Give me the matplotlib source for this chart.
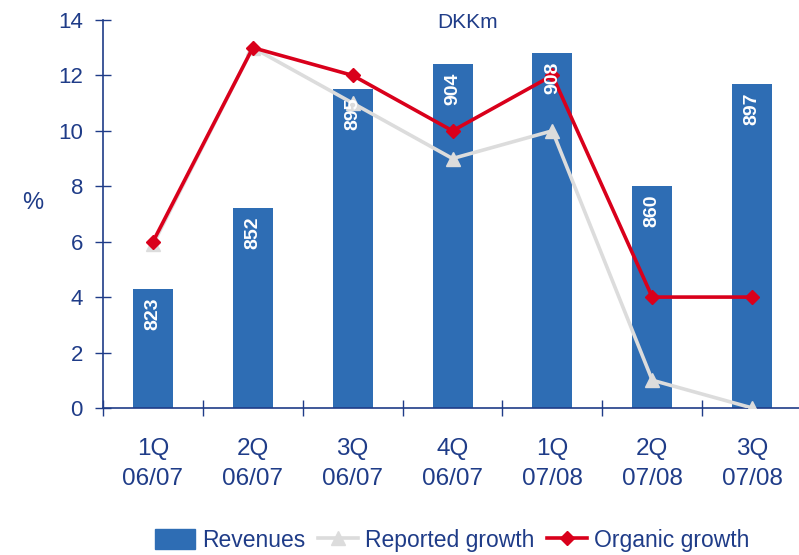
import matplotlib
matplotlib.use("Agg")
import matplotlib.pyplot as plt
from matplotlib.lines import Line2D
from matplotlib.patches import Patch

plt.rcParams['font.family'] = ['Liberation Sans', 'DejaVu Sans']

categories = ["1Q\n06/07", "2Q\n06/07", "3Q\n06/07", "4Q\n06/07", "1Q\n07/08", "2Q\n07/08", "3Q\n07/08"]
revenues = [823, 852, 895, 904, 908, 860, 897]
reported_growth = [5.9, 13, 11, 9, 10, 1, 0]
organic_growth = [6, 13, 12, 10, 12, 4, 4]

NAVY = "#1F3C88"
BLUE = "#2E6DB4"
RED = "#D9001B"
GRAY = "#DCDCDC"

fig = plt.figure(figsize=(7.99, 5.55), dpi=100)
ax = fig.add_axes([0.129, 0.265, 0.871, 0.699])
ax2 = ax.twinx()
ax.set_zorder(2)
ax.patch.set_visible(False)

x = list(range(len(categories)))
ax2.bar(x, [r - 780 for r in revenues], bottom=780, width=0.4, color=BLUE, zorder=1)
ax2.set_ylim(780, 920)
ax2.axis('off')

ax.plot(x, reported_growth, color=GRAY, lw=2.6, marker='^', ms=10, zorder=3)
ax.plot(x, organic_growth, color=RED, lw=2.6, marker='D', ms=7.5, zorder=4)

for xi, r in zip(x, revenues):
    ax.annotate(str(r), (xi, r), xycoords=ax2.transData, xytext=(0, -6),
                textcoords='offset points', rotation=90, ha='center', va='top',
                color='white', fontsize=14, fontweight='bold', zorder=5)

ax.set_xlim(-0.5, 6.47)
ax.set_ylim(0, 14)
ax.set_yticks(range(0, 15, 2))
ax.set_xticks([i + 0.5 for i in range(-1, 6)], minor=False)
ax.set_xticklabels([])
ax.set_xticks(x, minor=True)
ax.set_xticklabels(categories, minor=True, fontsize=17.5, color=NAVY, linespacing=1.45)
ax.tick_params(axis='x', which='minor', length=0, pad=22)
ax.tick_params(axis='x', which='major', direction='inout', length=12, color=NAVY, width=1)
ax.tick_params(axis='y', direction='inout', length=11, color=NAVY, width=1,
               labelsize=16, labelcolor=NAVY, pad=9)
for s in ['top', 'right']:
    ax.spines[s].set_visible(False)
for s in ['left', 'bottom']:
    ax.spines[s].set_color(NAVY)
    ax.spines[s].set_linewidth(1.2)

fig.text(0.041, 0.634, "%", fontsize=17, color=NAVY, ha='center', va='center')
fig.text(0.585, 0.96, "DKKm", fontsize=15, color=NAVY, ha='center', va='center')

handles = [Patch(color=BLUE),
           Line2D([], [], color=GRAY, lw=2.6, marker='^', ms=10),
           Line2D([], [], color=RED, lw=2.6, marker='D', ms=7.5)]
fig.legend(handles, ["Revenues", "Reported growth", "Organic growth"], ncol=3,
           loc='center', bbox_to_anchor=(0.566, 0.027), frameon=False,
           fontsize=16.5, labelcolor=NAVY, handlelength=1.75, handleheight=0.95,
           handletextpad=0.3, columnspacing=0.55, borderaxespad=0)

fig.savefig("out.png", dpi=100)
